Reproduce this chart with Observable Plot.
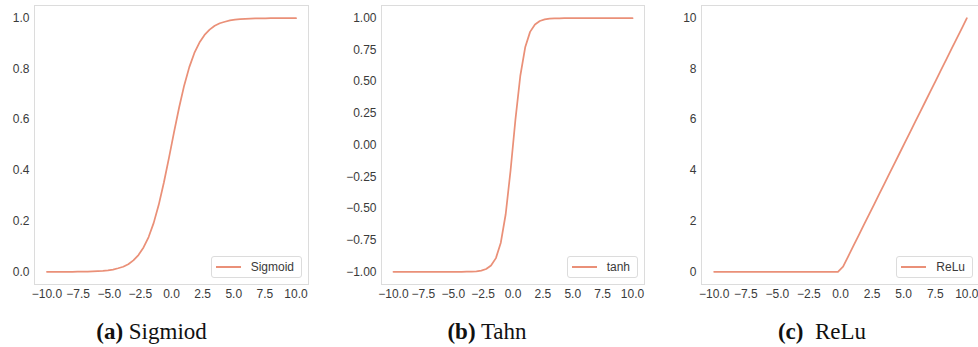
<!DOCTYPE html>
<html>
<head>
<meta charset="utf-8">
<script src="https://cdn.jsdelivr.net/npm/d3@7"></script>
<script src="https://cdn.jsdelivr.net/npm/@observablehq/plot@0.6"></script>
<style>
  html, body { margin: 0; padding: 0; background: #fff; overflow: hidden; }
  #root { position: relative; width: 978px; height: 347px; overflow: hidden; background: #fff; }
  .panel { position: absolute; top: 0; }
  .legend {
    position: absolute; box-sizing: border-box; height: 22px;
    display: flex; align-items: center; gap: 10px;
    padding: 0 7px 0 4px; background: #fff;
    border: 1px solid #dcdcdc; border-radius: 3px;
    font: 12px "Liberation Sans", Arial, sans-serif; color: #3a3a3a;
  }
  .legend .swatch { width: 25px; height: 2px; }
  .caption {
    position: absolute; top: 320px; transform: translateX(-50%);
    font: 23px/23px "Liberation Serif", "DejaVu Serif", serif; color: #111; white-space: pre;
  }
  .caption b { font-weight: bold; }
</style>
</head>
<body>
<div id="root"></div>
<script>
// ---- data ----
const xs = [-10.000, -9.592, -9.184, -8.776, -8.367, -7.959, -7.551, -7.143, -6.735, -6.327,
            -5.918, -5.510, -5.102, -4.694, -4.286, -3.878, -3.469, -3.061, -2.653, -2.245,
            -1.837, -1.429, -1.020, -0.612, -0.204, 0.204, 0.612, 1.020, 1.429, 1.837,
            2.245, 2.653, 3.061, 3.469, 3.878, 4.286, 4.694, 5.102, 5.510, 5.918,
            6.327, 6.735, 7.143, 7.551, 7.959, 8.367, 8.776, 9.184, 9.592, 10.000];
const sigmoidVals = [0.000, 0.000, 0.000, 0.000, 0.000, 0.000, 0.001, 0.001, 0.001, 0.002,
                     0.003, 0.004, 0.006, 0.009, 0.014, 0.020, 0.030, 0.045, 0.066, 0.096,
                     0.137, 0.193, 0.265, 0.352, 0.449, 0.551, 0.648, 0.735, 0.807, 0.863,
                     0.904, 0.934, 0.955, 0.970, 0.980, 0.986, 0.991, 0.994, 0.996, 0.997,
                     0.998, 0.999, 0.999, 0.999, 1.000, 1.000, 1.000, 1.000, 1.000, 1.000];
const tanhVals = [-1.000, -1.000, -1.000, -1.000, -1.000, -1.000, -1.000, -1.000, -1.000, -1.000,
                  -1.000, -1.000, -1.000, -1.000, -1.000, -0.999, -0.998, -0.996, -0.990, -0.978,
                  -0.950, -0.892, -0.770, -0.546, -0.201, 0.201, 0.546, 0.770, 0.892, 0.950,
                  0.978, 0.990, 0.996, 0.998, 0.999, 1.000, 1.000, 1.000, 1.000, 1.000,
                  1.000, 1.000, 1.000, 1.000, 1.000, 1.000, 1.000, 1.000, 1.000, 1.000];
const reluVals = [0, 0, 0, 0, 0, 0, 0, 0, 0, 0,
                  0, 0, 0, 0, 0, 0, 0, 0, 0, 0,
                  0, 0, 0, 0, 0, 0.204, 0.612, 1.020, 1.429, 1.837,
                  2.245, 2.653, 3.061, 3.469, 3.878, 4.286, 4.694, 5.102, 5.510, 5.918,
                  6.327, 6.735, 7.143, 7.551, 7.959, 8.367, 8.776, 9.184, 9.592, 10.000];

const xTicks = [-10, -7.5, -5, -2.5, 0, 2.5, 5, 7.5, 10];
const sigmoidTicks = [0, 0.2, 0.4, 0.6, 0.8, 1.0];
const tanhTicks = [-1, -0.75, -0.5, -0.25, 0, 0.25, 0.5, 0.75, 1];
const reluTicks = [0, 2, 4, 6, 8, 10];

const legendLabels = ["Sigmoid", "tanh", "ReLu"];
const captionTags = ["(a)", "(b)", "(c)"];
const captionNames = ["Sigmiod", "Tahn", " ReLu"];

// ---- layout / style ----
const lineColor = "#ea9078";
const H = 305, MT = 5, MB = 21;
const panels = [
  {vals: sigmoidVals, ticks: sigmoidTicks, fmt: ".1f", yDom: [-0.05, 1.05], left: 0,   width: 320, ml: 34, mr: 12, cap: 151.5},
  {vals: tanhVals,    ticks: tanhTicks,    fmt: ".2f", yDom: [-1.1, 1.1],   left: 330, width: 330, ml: 51, mr: 16, cap: 487},
  {vals: reluVals,    ticks: reluTicks,    fmt: "d",   yDom: [-0.5, 10.5],  left: 660, width: 320, ml: 41, mr: 1,  cap: 822}
];

const root = document.getElementById("root");
panels.forEach((p, i) => {
  const data = xs.map((x, j) => ({x, y: p.vals[j]}));
  const chart = Plot.plot({
    width: p.width, height: H,
    marginLeft: p.ml, marginRight: p.mr, marginTop: MT, marginBottom: MB,
    style: {fontFamily: "'Liberation Sans', Arial, sans-serif", fontSize: "12px", color: "#3a3a3a", background: "#fff", overflow: "visible"},
    x: {domain: [-11, 11], ticks: xTicks, tickFormat: d3.format(".1f"), tickSize: 0, tickPadding: 5, label: null},
    y: {domain: p.yDom, ticks: p.ticks, tickFormat: d3.format(p.fmt), tickSize: 0, tickPadding: 5, label: null},
    marks: [
      Plot.frame({stroke: "#dcdcdc", strokeWidth: 1}),
      Plot.line(data, {x: "x", y: "y", stroke: lineColor, strokeWidth: 1.75})
    ]
  });
  const wrap = document.createElement("div");
  wrap.className = "panel";
  wrap.style.left = p.left + "px";
  wrap.style.width = p.width + "px";
  wrap.style.height = H + "px";
  wrap.appendChild(chart);

  const lg = document.createElement("div");
  lg.className = "legend";
  lg.style.right = (p.mr + 6) + "px";
  lg.style.bottom = (MB + 6) + "px";
  const sw = document.createElement("span");
  sw.className = "swatch";
  sw.style.background = lineColor;
  const tx = document.createElement("span");
  tx.textContent = legendLabels[i];
  lg.appendChild(sw); lg.appendChild(tx);
  wrap.appendChild(lg);
  root.appendChild(wrap);

  const cap = document.createElement("div");
  cap.className = "caption";
  cap.style.left = p.cap + "px";
  const b = document.createElement("b");
  b.textContent = captionTags[i];
  cap.appendChild(b);
  cap.appendChild(document.createTextNode(" " + captionNames[i]));
  root.appendChild(cap);
});
</script>
</body>
</html>
